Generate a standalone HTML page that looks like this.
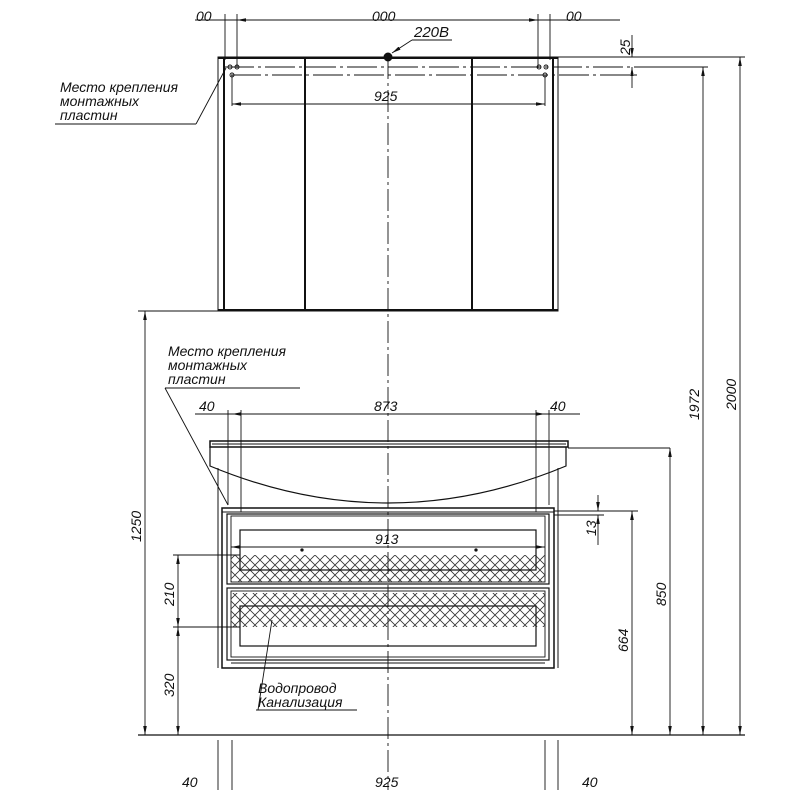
<!DOCTYPE html>
<html><head><meta charset="utf-8"><style>html,body{margin:0;padding:0;background:#fff}svg{display:block}text{font-family:"Liberation Sans",sans-serif;font-style:italic;fill:#111}</style></head><body>
<svg width="800" height="800" viewBox="0 0 800 800" xmlns="http://www.w3.org/2000/svg">
<defs>
<marker id="a" viewBox="0 0 10 4" refX="10" refY="2" markerWidth="10" markerHeight="4" orient="auto-start-reverse"><path d="M0,0L10,2L0,4z" fill="#111"/></marker>
<pattern id="h" width="10" height="10" patternUnits="userSpaceOnUse"><path d="M0,0L10,10M10,0L0,10" stroke="#333" stroke-width="0.8"/></pattern>
<clipPath id="c"><rect x="0" y="11" width="800" height="10"/></clipPath>
</defs>
<g stroke="#111" fill="none" stroke-width="0.9">
<line x1="195" y1="20" x2="620" y2="20"/>
<line x1="237" y1="20" x2="538" y2="20" marker-start="url(#a)" marker-end="url(#a)"/>
<line x1="225" y1="14" x2="225" y2="60"/><line x1="237" y1="14" x2="237" y2="68"/>
<line x1="538" y1="14" x2="538" y2="68"/><line x1="550" y1="14" x2="550" y2="60"/>
<rect x="218" y="57" width="340" height="254" stroke-width="1"/>
<line x1="224" y1="57" x2="224" y2="311" stroke-width="2"/>
<line x1="553" y1="57" x2="553" y2="311" stroke-width="2"/>
<line x1="218" y1="58" x2="558" y2="58" stroke-width="2"/>
<line x1="218" y1="310" x2="558" y2="310" stroke-width="2"/>
<line x1="305" y1="58" x2="305" y2="311" stroke-width="2"/>
<line x1="472" y1="58" x2="472" y2="311" stroke-width="2"/>
<line x1="224" y1="67" x2="640" y2="67" stroke-dasharray="30,4,3,4"/>
<line x1="231" y1="75" x2="640" y2="75" stroke-dasharray="30,4,3,4"/>
<line x1="558" y1="57" x2="745" y2="57"/>
<line x1="640" y1="67" x2="708" y2="67"/>
<circle cx="230" cy="67" r="2"/><circle cx="237" cy="67" r="2"/><circle cx="232" cy="75" r="2"/>
<circle cx="539" cy="67" r="2"/><circle cx="546" cy="67" r="2"/><circle cx="545" cy="75" r="2"/>
<line x1="232" y1="75" x2="232" y2="106"/><line x1="545" y1="75" x2="545" y2="106"/>
<line x1="232" y1="104" x2="545" y2="104" marker-start="url(#a)" marker-end="url(#a)"/>
<circle cx="388" cy="57" r="4" fill="#111"/>
<line x1="392" y1="53" x2="412" y2="40" marker-start="url(#a)"/><line x1="412" y1="40" x2="452" y2="40"/>
<line x1="388" y1="57" x2="388" y2="790" stroke-dasharray="22,4,3,4"/>
<line x1="632" y1="35" x2="632" y2="57" marker-end="url(#a)"/><line x1="632" y1="67" x2="632" y2="88" marker-start="url(#a)"/>
<line x1="55" y1="124" x2="196" y2="124"/><line x1="196" y1="124" x2="226" y2="68"/>
<line x1="703" y1="67" x2="703" y2="735" marker-start="url(#a)" marker-end="url(#a)"/>
<line x1="740" y1="57" x2="740" y2="735" marker-start="url(#a)" marker-end="url(#a)"/>
<line x1="138" y1="735" x2="745" y2="735" stroke-width="1.2"/>
<line x1="138" y1="311" x2="218" y2="311"/>
<line x1="145" y1="311" x2="145" y2="735" marker-start="url(#a)" marker-end="url(#a)"/>
<line x1="165" y1="388" x2="300" y2="388"/><line x1="165" y1="388" x2="228" y2="505"/>
<line x1="195" y1="414" x2="580" y2="414"/>
<line x1="232" y1="414" x2="545" y2="414" marker-start="url(#a)" marker-end="url(#a)"/>
<line x1="228" y1="410" x2="228" y2="505"/><line x1="241" y1="410" x2="241" y2="512"/>
<line x1="536" y1="410" x2="536" y2="512"/><line x1="549" y1="410" x2="549" y2="505"/>
<path d="M210,441 L568,441 L568,447 L210,447 Z" stroke-width="1.5"/>
<line x1="212" y1="444" x2="566" y2="444"/>
<path d="M210,447 L210,466 Q388,540 566,466 L566,447" stroke-width="1.2"/>
<line x1="568" y1="448" x2="670" y2="448"/>
<line x1="670" y1="448" x2="670" y2="735" marker-start="url(#a)" marker-end="url(#a)"/>
<line x1="218" y1="468" x2="218" y2="668" stroke-width="1"/>
<line x1="558" y1="468" x2="558" y2="668" stroke-width="1"/>
<rect x="222" y="508" width="332" height="160" stroke-width="1.5"/>
<line x1="222" y1="512" x2="554" y2="512"/>
<rect x="227" y="514" width="322" height="70" stroke-width="1.2"/>
<rect x="231" y="516" width="314" height="66"/>
<rect x="231" y="555" width="314" height="27" fill="url(#h)" stroke="none"/>
<rect x="240" y="530" width="296" height="40" stroke-width="1.2"/>
<rect x="227" y="588" width="322" height="72" stroke-width="1.2"/>
<rect x="231" y="591" width="314" height="66"/>
<rect x="231" y="593" width="314" height="34" fill="url(#h)" stroke="none"/>
<rect x="240" y="606" width="296" height="40" stroke-width="1.2"/>
<line x1="231" y1="663" x2="545" y2="663"/>
<line x1="231" y1="547" x2="545" y2="547" marker-start="url(#a)" marker-end="url(#a)"/>
<circle cx="302" cy="550" r="1.2" fill="#111"/><circle cx="476" cy="550" r="1.2" fill="#111"/>
<line x1="173" y1="555" x2="240" y2="555"/><line x1="173" y1="627" x2="240" y2="627"/>
<line x1="178" y1="555" x2="178" y2="627" marker-start="url(#a)" marker-end="url(#a)"/>
<line x1="178" y1="627" x2="178" y2="735" marker-start="url(#a)" marker-end="url(#a)"/>
<line x1="554" y1="511" x2="638" y2="511"/><line x1="554" y1="515" x2="604" y2="515"/>
<line x1="598" y1="495" x2="598" y2="511" marker-end="url(#a)"/><line x1="598" y1="515" x2="598" y2="545" marker-start="url(#a)"/>
<line x1="632" y1="511" x2="632" y2="735" marker-start="url(#a)" marker-end="url(#a)"/>
<line x1="256" y1="710" x2="357" y2="710"/><line x1="258" y1="710" x2="272" y2="620"/>
<line x1="218" y1="740" x2="218" y2="790"/><line x1="232" y1="740" x2="232" y2="790"/>
<line x1="545" y1="740" x2="545" y2="790"/><line x1="558" y1="740" x2="558" y2="790"/>
</g>
<g font-size="14">
<g clip-path="url(#c)"><text x="196" y="21">00</text><text x="372" y="21">000</text><text x="566" y="21">00</text></g>
<text x="414" y="37" font-size="15">220В</text>
<text x="374" y="101">925</text>
<text x="0" y="0" transform="translate(630,55) rotate(-90)">25</text>
<text x="60" y="92">Место крепления</text><text x="60" y="106">монтажных</text><text x="60" y="120">пластин</text>
<text x="168" y="356">Место крепления</text><text x="168" y="370">монтажных</text><text x="168" y="384">пластин</text>
<text x="199" y="411">40</text><text x="374" y="411">873</text><text x="550" y="411">40</text>
<text x="375" y="544">913</text>
<text x="0" y="0" transform="translate(699,420) rotate(-90)">1972</text>
<text x="0" y="0" transform="translate(736,410) rotate(-90)">2000</text>
<text x="0" y="0" transform="translate(666,606) rotate(-90)">850</text>
<text x="0" y="0" transform="translate(628,652) rotate(-90)">664</text>
<text x="0" y="0" transform="translate(596,536) rotate(-90)">13</text>
<text x="0" y="0" transform="translate(141,542) rotate(-90)">1250</text>
<text x="0" y="0" transform="translate(174,606) rotate(-90)">210</text>
<text x="0" y="0" transform="translate(174,697) rotate(-90)">320</text>
<text x="258" y="693">Водопровод</text><text x="258" y="707">Канализация</text>
<text x="182" y="787">40</text><text x="375" y="787">925</text><text x="582" y="787">40</text>
</g>
</svg>
</body></html>
